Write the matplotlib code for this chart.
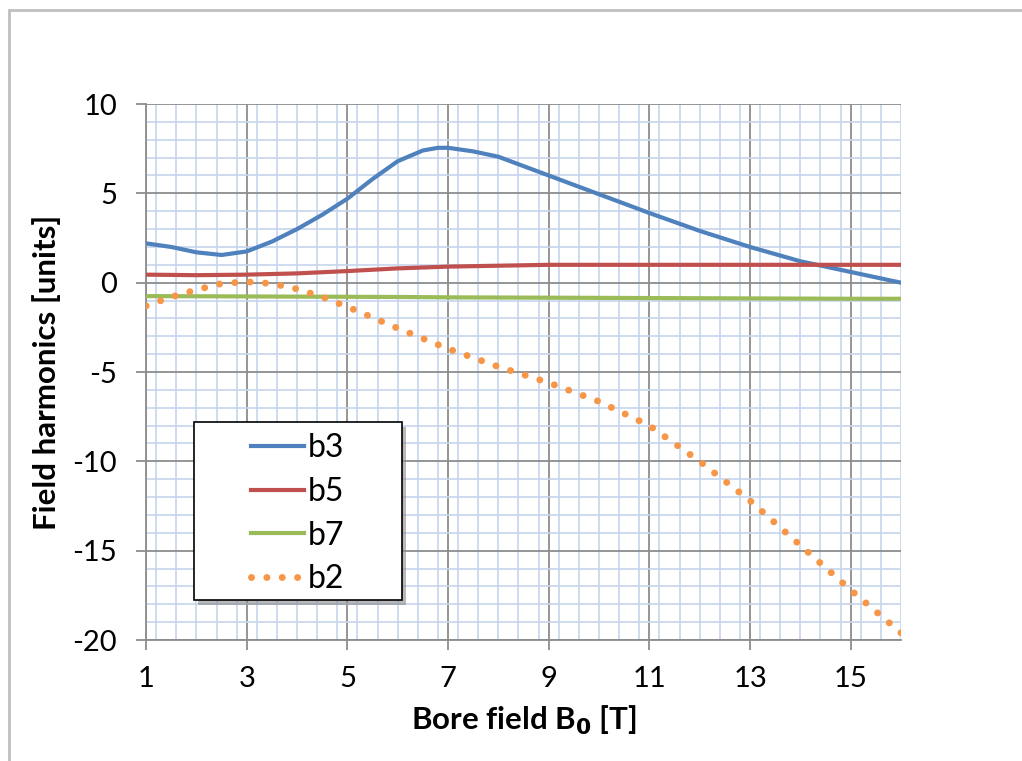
import matplotlib
matplotlib.use("Agg")
import matplotlib.pyplot as plt
from matplotlib.patches import Rectangle
from matplotlib.ticker import MultipleLocator

plt.rcParams["font.family"] = ["Lato", "DejaVu Sans"]
plt.rcParams["axes.unicode_minus"] = False

# values
field_b3 = [1, 1.5, 2, 2.5, 3, 3.5, 4, 4.5, 5, 5.5, 6, 6.5, 6.8, 7, 7.5, 8, 9, 10, 11, 12, 13, 14, 15, 16]
b3 = [2.2, 2.0, 1.7, 1.55, 1.75, 2.3, 3.0, 3.8, 4.7, 5.8, 6.8, 7.4, 7.55, 7.55, 7.35, 7.05, 6.0, 4.95, 3.9, 2.9, 2.0, 1.2, 0.6, 0.0]

field = [1, 2, 3, 4, 5, 6, 7, 8, 9, 10, 11, 12, 13, 14, 15, 16]
b5 = [0.45, 0.42, 0.45, 0.52, 0.65, 0.8, 0.9, 0.95, 1.0, 1.0, 1.0, 1.0, 1.0, 1.0, 1.0, 1.0]
b7 = [-0.75, -0.76, -0.77, -0.78, -0.79, -0.8, -0.82, -0.83, -0.84, -0.85, -0.86, -0.87, -0.88, -0.89, -0.9, -0.9]

field_b2 = [1, 1.5, 2, 2.5, 3, 3.5, 4, 4.5, 5, 6, 7, 8, 9, 10, 11, 12, 13, 14, 15, 16]
b2 = [-1.3, -0.8, -0.4, -0.05, 0.05, -0.05, -0.35, -0.8, -1.35, -2.55, -3.7, -4.7, -5.6, -6.65, -8.0, -10.0, -12.2, -14.7, -17.2, -19.6]

x_ticks = [1, 3, 5, 7, 9, 11, 13, 15]
y_ticks = [10, 5, 0, -5, -10, -15, -20]

fig = plt.figure(figsize=(10.22, 7.61), dpi=100)
ax = fig.add_axes([0.1429, 0.159, 0.7387, 0.7043])

# outer chart frame (Excel style)
fig.patches.append(Rectangle((0.009, -0.2), 1.2, 1.187, transform=fig.transFigure,
                             fill=False, edgecolor="#bfbfbf", linewidth=2, zorder=0))

ax.plot(field_b3, b3, color="#4F81BD", lw=3, label="b3", zorder=5)
ax.plot(field, b5, color="#C0504D", lw=3, label="b5", zorder=5)
ax.plot(field, b7, color="#9BBB59", lw=3, label="b7", zorder=5)
ax.plot(field_b2, b2, color="#F79646", lw=5, label="b2", zorder=5,
        linestyle=(0, (0.01, 2.2)), dash_capstyle="round")

ax.set_xlim(1, 16)
ax.set_ylim(-20, 10)
ax.set_xticks(x_ticks)
ax.set_yticks(y_ticks)
ax.xaxis.set_minor_locator(MultipleLocator(0.4))
ax.yaxis.set_minor_locator(MultipleLocator(1))

ax.grid(which="minor", color="#c6d5ee", lw=1.2)
ax.grid(which="major", color="#8c8c8c", lw=1.3)
ax.set_axisbelow(True)

for s in ["top", "right"]:
    ax.spines[s].set_visible(False)
for s in ["left", "bottom"]:
    ax.spines[s].set_color("#8c8c8c")
    ax.spines[s].set_linewidth(1.3)

ax.tick_params(which="major", direction="out", length=7, width=1.3, color="#8c8c8c",
               labelsize=21)
ax.tick_params(axis="y", pad=14)
ax.tick_params(axis="x", pad=12)
ax.tick_params(which="minor", length=0)

ax.set_xlabel("Bore field B$_\\mathbf{0}$ [T]", fontsize=22.5, fontweight="bold", labelpad=8)
ax.set_ylabel("Field harmonics [units]", fontsize=22.5, fontweight="bold", labelpad=8)

# legend box with shadow, drawn by hand to get the Excel proportions
box = dict(transform=ax.transAxes, clip_on=False)
ax.add_patch(Rectangle((0.069, 0.066), 0.2755, 0.3321, facecolor="#8a8a8a",
                       edgecolor="none", alpha=0.6, zorder=9, **box))
ax.add_patch(Rectangle((0.0636, 0.0746), 0.2755, 0.3321, facecolor="white",
                       edgecolor="black", lw=1.2, zorder=10, **box))
leg = ax.legend(loc="upper left", bbox_to_anchor=(0.139, 0.386), borderaxespad=0,
                borderpad=0, fontsize=23, frameon=False, handlelength=1.65,
                handletextpad=0.12, labelspacing=0.43)
leg.set_zorder(11)

fig.savefig("out.png", dpi=100)
